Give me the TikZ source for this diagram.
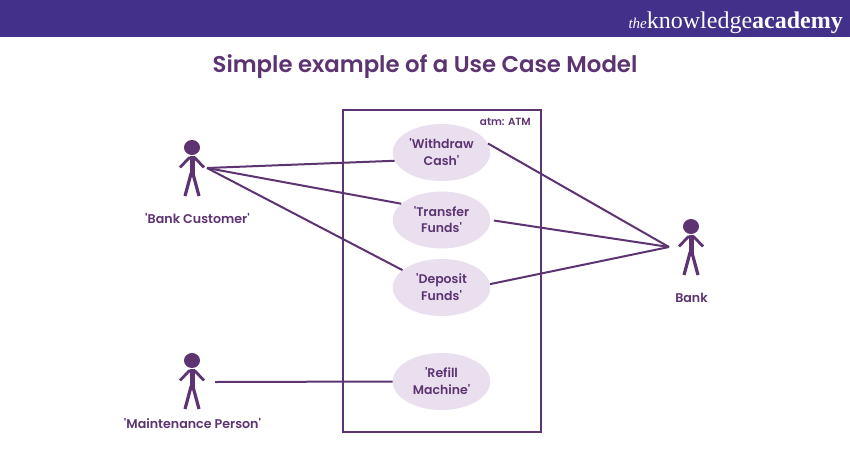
\documentclass[tikz,border=0pt]{standalone}
\usepackage{fontspec}
\setmainfont{Poppins}[Ligatures=TeXOff,BoldFont={Poppins SemiBold}]
\newfontfamily\logofont{Liberation Serif}
\usetikzlibrary{shapes.geometric}
\definecolor{hdr}{HTML}{43308A}
\definecolor{ink}{HTML}{5D3372}
\definecolor{ell}{HTML}{EADFEF}
\tikzset{
  usecase/.style={ellipse,fill=ell,draw=none,inner sep=0pt,minimum width=97.5pt,minimum height=57pt,
    text=ink,font=\fontsize{12.5}{16.7}\selectfont\bfseries,align=center},
  actorlabel/.style={text=ink,font=\fontsize{12.65}{15}\selectfont\bfseries,inner sep=0pt},
  link/.style={draw=ink,line width=2pt},
  limb/.style={draw=ink,line width=2.8pt},
  torso/.style={draw=ink,line width=5pt},
  pics/actor/.style={code={
    \fill[ink] (0,-1.5) ellipse (8pt and 7.5pt);
    \draw[torso] (0,6.5) -- (0,25);
    \draw[limb] (-12,18.5) -- (-3,9) -- (3,9) -- (12,18.5);
    \draw[limb,line width=3.2pt] (-0.8,24) -- (-7,47);
    \draw[limb,line width=3.2pt] (0.8,24) -- (7,47);
  }}
}
\begin{document}
\begin{tikzpicture}[x=1pt,y=-1pt]
\useasboundingbox (0,0) rectangle (850,450);
\fill[white] (0,0) rectangle (850,450);
\fill[hdr] (0,0) rectangle (850,36.5);
\node[anchor=base east,text=white,inner sep=0pt] (logo) at (843,28)
  {\logofont\fontsize{24}{24}\selectfont{\itshape\fontsize{15}{15}\selectfont the}knowledge\textbf{academy}};
\node[text=ink,font=\fontsize{22.8}{28}\selectfont\bfseries,inner sep=0pt] (title) at (425,67) {Simple example of a Use Case Model};

\draw[ink,line width=2pt] (343,110) rectangle (541,432);
\node[anchor=east,text=ink,font=\fontsize{10.4}{12}\selectfont\bfseries,inner sep=0pt] (atm) at (531,122) {atm: ATM};

\node[usecase] (withdraw) at (441.5,152.5) {\raisebox{1pt}{'Withdraw}\\\raisebox{1pt}{Cash'}};
\node[usecase] (transfer) at (441.5,220) {\raisebox{1pt}{'Transfer}\\\raisebox{1pt}{Funds'}};
\node[usecase] (deposit) at (441.5,287.5) {\raisebox{1pt}{'Deposit}\\\raisebox{1pt}{Funds'}};
\node[usecase] (refill) at (441.5,381.5) {\raisebox{1pt}{'Refill}\\\raisebox{1pt}{Machine'}};

\pic at (192,149) {actor};
\pic at (691,228) {actor};
\pic at (192,362) {actor};

\node[actorlabel] (lcust) at (197.5,219) {'Bank Customer'};
\node[actorlabel] (lbank) at (691.5,298) {Bank};
\node[actorlabel] (lmaint) at (192.5,424) {'Maintenance Person'};

\coordinate (cust) at (207,168);
\coordinate (bank) at (669,247);
\coordinate (maint) at (215,382);

\draw[link] (cust) -- (withdraw.190);
\draw[link] (cust) -- (transfer.158);
\draw[link] (cust) -- (deposit.156);
\draw[link] (bank) -- (withdraw.11);
\draw[link,shorten >=3.5pt] (bank) -- (transfer.east);
\draw[link] (bank) -- (deposit.4);
\draw[link] (maint) -- (refill.west);
\end{tikzpicture}
\end{document}
